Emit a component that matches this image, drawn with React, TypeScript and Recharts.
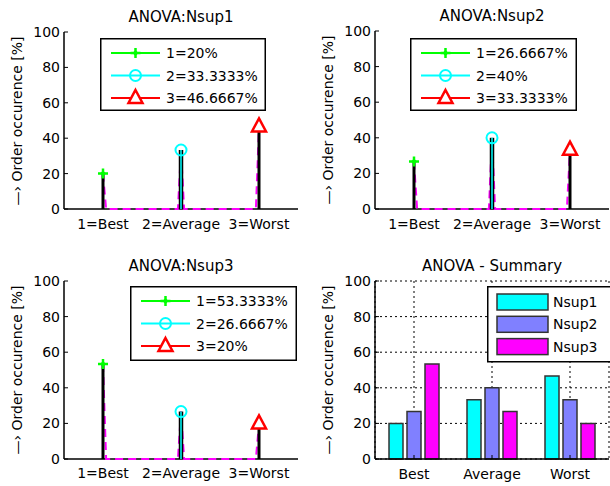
import { Bar, BarChart, CartesianGrid, ComposedChart, Legend, Line, Scatter, XAxis, YAxis } from 'recharts'

const categories = ['Best', 'Average', 'Worst']
const stemTicks = [1, 2, 3]
const stemTickLabels = ['1=Best', '2=Average', '3=Worst']
const yTicks = [0, 20, 40, 60, 80, 100]
const nsup1 = [20, 33.3333, 46.6667]
const nsup2 = [26.6667, 40, 33.3333]
const nsup3 = [53.3333, 26.6667, 20]
const seriesNames = ['Nsup1', 'Nsup2', 'Nsup3']
const markerColors = ['#00ff00', '#00ffff', '#ff0000']
const barColors = ['#00ffff', '#8080ff', '#ff00ff']

const FONT = 'DejaVu Sans'
const TRACE_STEP = 0.04
const W = 305
const H = 243

const tickStyle = { fontSize: 14, fill: '#000', fontFamily: FONT }
const axisLine = { stroke: '#000', strokeWidth: 1.5 }

// histogram-like trace: peaks at each category, zero in between
const buildTrace = (values: number[]) => {
  const pts: { x: number; y: number }[] = []
  values.forEach((v, i) => {
    const x = stemTicks[i]
    if (i > 0) pts.push({ x: x - TRACE_STEP, y: 0 })
    pts.push({ x, y: v })
    if (i < values.length - 1) pts.push({ x: x + TRACE_STEP, y: 0 })
  })
  return pts
}

const Marker = ({ kind, cx, cy }: { kind: number; cx: number; cy: number }) => {
  if (kind === 0) {
    return (
      <g>
        <path d={`M${cx - 5},${cy}L${cx + 5},${cy}M${cx},${cy - 5}L${cx},${cy + 5}`} stroke="#00ff00" strokeWidth={2.5} />
        <path d={`M${cx - 3},${cy}L${cx},${cy - 3}L${cx + 3},${cy}L${cx},${cy + 3}Z`} fill="#00ff00" />
      </g>
    )
  }
  if (kind === 1) {
    return <circle cx={cx} cy={cy} r={5.5} fill="none" stroke="#00ffff" strokeWidth={2} />
  }
  return (
    <path
      d={`M${cx},${cy - 8}L${cx + 7},${cy + 5}L${cx - 7},${cy + 5}Z`}
      fill="#fff"
      stroke="#ff0000"
      strokeWidth={2.5}
      strokeLinejoin="miter"
    />
  )
}

const StemLegend = ({ values, width, height }: { values: number[]; width: number; height: number }) => (
  <svg width={width} height={height} style={{ display: 'block' }}>
    <rect x={0.75} y={0.75} width={width - 1.5} height={height - 1.5} fill="#fff" stroke="#000" strokeWidth={1.5} />
    {values.map((v, i) => {
      const cy = 15 + i * 22.5
      return (
        <g key={i}>
          <line x1={11} x2={60} y1={cy} y2={cy} stroke={markerColors[i]} strokeWidth={2} />
          <Marker kind={i} cx={35.5} cy={cy} />
          <text x={66} y={cy} dy="0.36em" fontSize={14} fontFamily={FONT} fill="#000">
            {`${i + 1}=${v}%`}
          </text>
        </g>
      )
    })}
  </svg>
)

interface StemPanelProps {
  left: number
  top: number
  title: string
  values: number[]
  margin: { top: number; right: number; bottom: number; left: number }
  xHeight: number
  xTickMargin: number
  legend: { x: number; y: number; w: number; h: number }
}

const StemPanel = ({ left, top, title, values, margin, xHeight, xTickMargin, legend }: StemPanelProps) => {
  const trace = buildTrace(values)
  const plotLeft = margin.left + 40
  const plotRight = W - margin.right
  const plotBottom = H - margin.bottom - xHeight
  return (
    <div style={{ position: 'absolute', left, top, width: W, height: H }}>
      <ComposedChart width={W} height={H} margin={margin}>
        <XAxis
          dataKey="x"
          type="number"
          domain={[0.5, 3.5]}
          ticks={stemTicks}
          tickFormatter={(v: number) => stemTickLabels[stemTicks.indexOf(v)] ?? ''}
          height={xHeight}
          tickSize={-4}
          tickMargin={xTickMargin}
          tick={tickStyle}
          axisLine={axisLine}
          tickLine={{ stroke: '#000' }}
          allowDataOverflow
        />
        <XAxis
          xAxisId="top"
          orientation="top"
          dataKey="x"
          type="number"
          domain={[0.5, 3.5]}
          ticks={stemTicks}
          height={0}
          tickSize={-4}
          tick={false}
          axisLine={axisLine}
          tickLine={{ stroke: '#000' }}
        />
        <YAxis
          dataKey="y"
          type="number"
          domain={[0, 100]}
          ticks={yTicks}
          width={40}
          tickSize={-4}
          tickMargin={8}
          tick={tickStyle}
          axisLine={axisLine}
          tickLine={{ stroke: '#000' }}
        />
        <YAxis
          yAxisId="right"
          orientation="right"
          dataKey="y"
          type="number"
          domain={[0, 100]}
          ticks={yTicks}
          width={0}
          tickSize={-4}
          tick={false}
          axisLine={axisLine}
          tickLine={{ stroke: '#000' }}
        />
        {values.map((v, i) => (
          <Line
            key={`stem${i}`}
            data={[{ x: stemTicks[i], y: 0 }, { x: stemTicks[i], y: v }]}
            dataKey="y"
            type="linear"
            stroke="#000"
            strokeWidth={i === 1 ? 4.5 : 3}
            dot={false}
            activeDot={false}
            isAnimationActive={false}
            zIndex={550}
          />
        ))}
        <Line
          data={[{ x: stemTicks[1], y: 0 }, { x: stemTicks[1], y: values[1] }]}
          dataKey="y"
          type="linear"
          stroke="#00ffff"
          strokeWidth={1.5}
          dot={false}
          activeDot={false}
          isAnimationActive={false}
          zIndex={551}
        />
        <Line
          data={trace}
          dataKey="y"
          type="linear"
          stroke="#ff00ff"
          strokeWidth={2}
          strokeDasharray="8 5"
          dot={false}
          activeDot={false}
          isAnimationActive={false}
          zIndex={549}
        />
        {values.map((v, i) => (
          <Scatter
            key={`mk${i}`}
            data={[{ x: stemTicks[i], y: v }]}
            dataKey="y"
            isAnimationActive={false}
            zIndex={600}
            shape={(p: any) => <Marker kind={i} cx={p.cx} cy={p.cy} />}
          />
        ))}
        <Legend
          layout="vertical"
          align="center"
          verticalAlign="middle"
          wrapperStyle={{ left: legend.x, top: legend.y, width: legend.w, height: legend.h }}
          content={() => <StemLegend values={values} width={legend.w} height={legend.h} />}
        />
      </ComposedChart>
      <div
        style={{
          position: 'absolute',
          left: plotLeft,
          width: plotRight - plotLeft,
          top: margin.top - 22,
          textAlign: 'center',
          fontFamily: FONT,
          fontSize: 15,
          lineHeight: '15px',
        }}
      >
        {title}
      </div>
      <div
        style={{
          position: 'absolute',
          left: plotLeft - 47,
          top: (margin.top + plotBottom) / 2,
          width: 220,
          transform: 'translate(-50%, -50%) rotate(-90deg)',
          textAlign: 'center',
          fontFamily: FONT,
          fontSize: 14,
          lineHeight: '14px',
          whiteSpace: 'nowrap',
        }}
      >
        —› Order occurence [%]
      </div>
    </div>
  )
}

const summaryData = categories.map((name, i) => ({
  name,
  Nsup1: nsup1[i],
  Nsup2: nsup2[i],
  Nsup3: nsup3[i],
}))

const SummaryLegend = () => (
  <svg width={130} height={77} style={{ display: 'block', overflow: 'visible' }}>
    <rect x={0.75} y={0.75} width={140} height={75} fill="#fff" stroke="#000" strokeWidth={1.5} />
    {seriesNames.map((name, i) => {
      const cy = 16 + i * 22.3
      return (
        <g key={name}>
          <rect x={10} y={cy - 8} width={51} height={16} fill={barColors[i]} stroke="#333" strokeWidth={1.5} />
          <text x={66} y={cy} dy="0.36em" fontSize={14} fontFamily={FONT} fill="#000">
            {name}
          </text>
        </g>
      )
    })}
  </svg>
)

const SummaryPanel = () => {
  const margin = { top: 38, right: 1, bottom: 2, left: 30 }
  return (
    <div style={{ position: 'absolute', left: 305, top: 243, width: W, height: H }}>
      <BarChart width={W} height={H} margin={margin} data={summaryData} barSize={14} barGap={4}>
        <CartesianGrid stroke="#000" strokeDasharray="2 3" />
        <XAxis
          dataKey="name"
          height={25}
          tickSize={-4}
          tickMargin={14}
          tick={tickStyle}
          axisLine={axisLine}
          tickLine={{ stroke: '#000' }}
        />
        <XAxis
          xAxisId="top"
          orientation="top"
          dataKey="name"
          height={0}
          tickSize={-4}
          tick={false}
          axisLine={axisLine}
          tickLine={{ stroke: '#000' }}
        />
        <YAxis
          type="number"
          domain={[0, 100]}
          ticks={yTicks}
          width={40}
          tickSize={-4}
          tickMargin={8}
          tick={tickStyle}
          axisLine={axisLine}
          tickLine={{ stroke: '#000' }}
        />
        <YAxis
          yAxisId="right"
          orientation="right"
          type="number"
          domain={[0, 100]}
          ticks={yTicks}
          width={0}
          tickSize={-4}
          tick={false}
          axisLine={axisLine}
          tickLine={{ stroke: '#000' }}
        />
        {seriesNames.map((name, i) => (
          <Bar key={name} dataKey={name} fill={barColors[i]} stroke="#333" strokeWidth={1.5} isAnimationActive={false} />
        ))}
        <Legend
          layout="vertical"
          align="center"
          verticalAlign="middle"
          wrapperStyle={{ left: 182, top: 43, width: 130, height: 77, overflow: 'hidden' }}
          content={() => <SummaryLegend />}
        />
      </BarChart>
      <div
        style={{
          position: 'absolute',
          left: 70,
          width: 234,
          top: 16,
          textAlign: 'center',
          fontFamily: FONT,
          fontSize: 15,
          lineHeight: '15px',
        }}
      >
        ANOVA - Summary
      </div>
      <div
        style={{
          position: 'absolute',
          left: 23,
          top: 127,
          width: 220,
          transform: 'translate(-50%, -50%) rotate(-90deg)',
          textAlign: 'center',
          fontFamily: FONT,
          fontSize: 14,
          lineHeight: '14px',
          whiteSpace: 'nowrap',
        }}
      >
        —› Order occurence [%]
      </div>
    </div>
  )
}

export default function App() {
  return (
    <div style={{ position: 'absolute', left: 0, top: 0, width: 610, height: 486, background: '#fff', overflow: 'hidden' }}>
      <StemPanel
        left={0}
        top={0}
        title="ANOVA:Nsup1"
        values={nsup1}
        margin={{ top: 32, right: 7, bottom: 4, left: 24 }}
        xHeight={30}
        xTickMargin={14}
        legend={{ x: 100, y: 38, w: 166, h: 73 }}
      />
      <StemPanel
        left={305}
        top={0}
        title="ANOVA:Nsup2"
        values={nsup2}
        margin={{ top: 31, right: 1, bottom: 4, left: 30 }}
        xHeight={30}
        xTickMargin={14}
        legend={{ x: 105, y: 38, w: 167, h: 73 }}
      />
      <StemPanel
        left={0}
        top={243}
        title="ANOVA:Nsup3"
        values={nsup3}
        margin={{ top: 38, right: 7, bottom: 2, left: 24 }}
        xHeight={25}
        xTickMargin={13}
        legend={{ x: 130, y: 43, w: 167, h: 75 }}
      />
      <SummaryPanel />
    </div>
  )
}
